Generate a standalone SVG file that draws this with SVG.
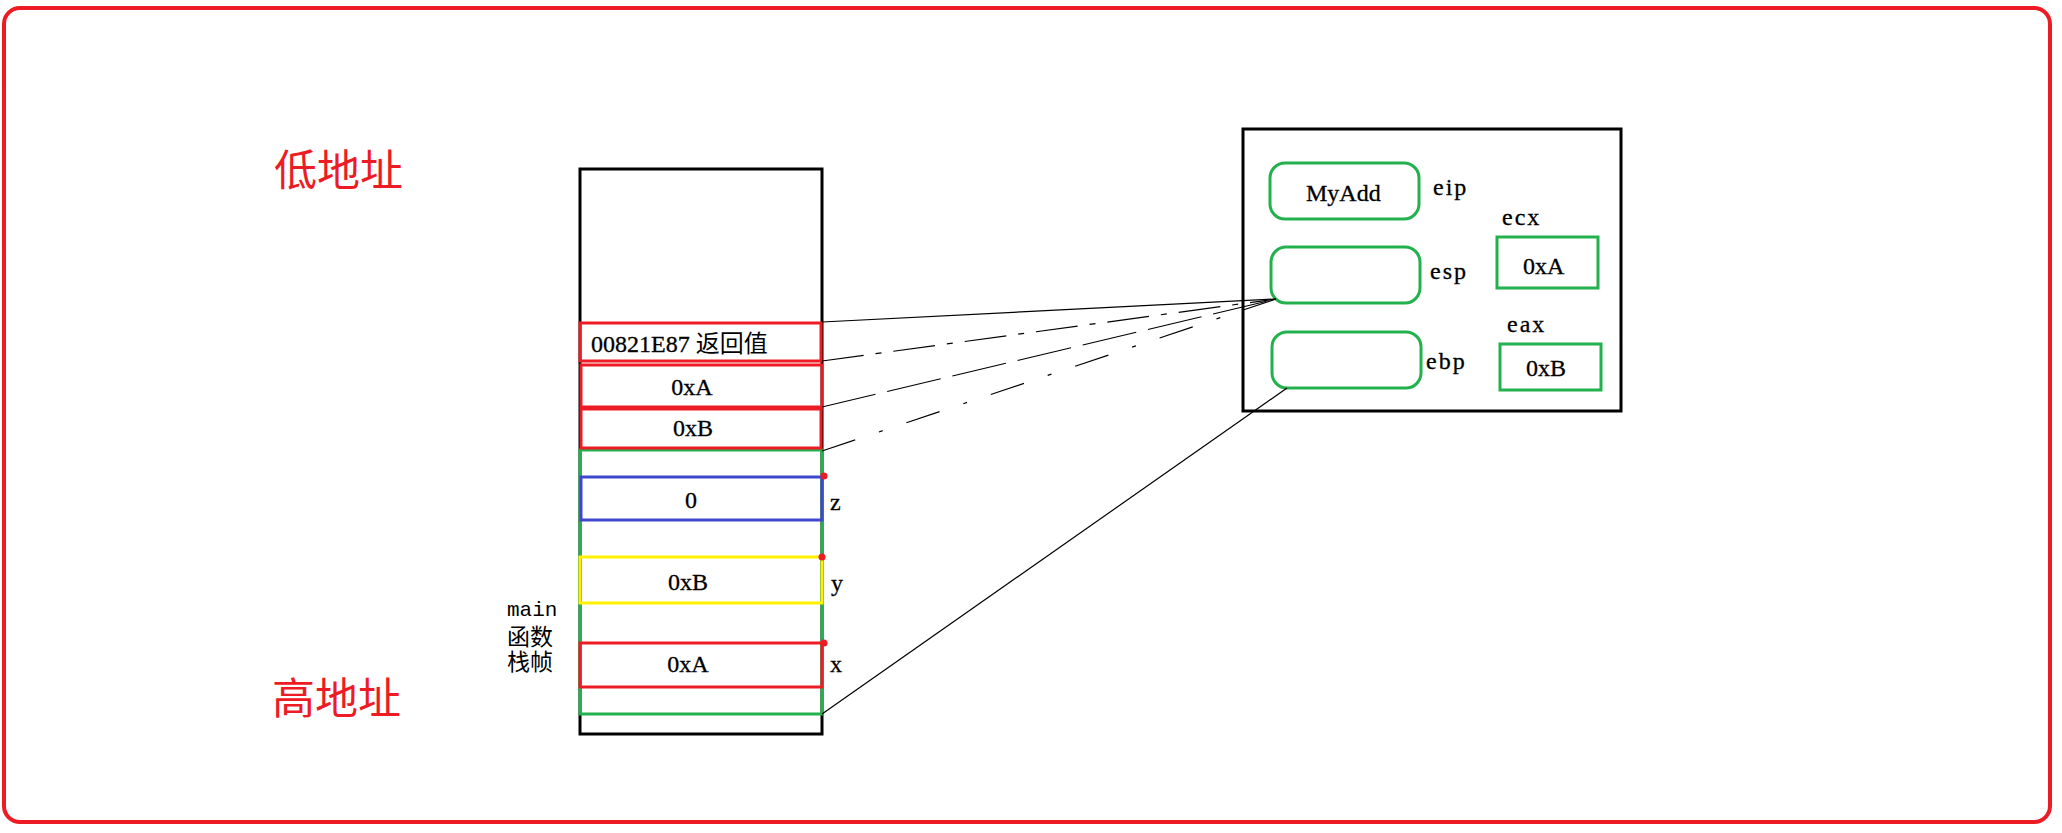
<svg xmlns="http://www.w3.org/2000/svg" width="2062" height="833" viewBox="0 0 2062 833">
<style>
.t{font-family:"Liberation Serif","Noto Sans CJK SC",serif;font-size:24px;fill:#000;stroke:#000;stroke-width:0.3}
.c{font-family:"Liberation Serif","Noto Sans CJK SC",serif;font-size:23px;fill:#000}
.cjk{font-family:"Noto Sans CJK SC","Noto Sans CJK JP",sans-serif;fill:#ed1c24;font-size:43px}
.lab{font-family:"Liberation Serif","Noto Sans CJK SC",serif;font-size:24px;fill:#000;stroke:#000;stroke-width:0.3;letter-spacing:2px}
.mono{font-family:"Liberation Mono",monospace;font-size:21px;fill:#000}
.red{fill:none;stroke:#ed1c24;stroke-width:3}
.grn{fill:none;stroke:#22b14c;stroke-width:3}
.blk{fill:none;stroke:#000;stroke-width:3}
.ln{stroke:#000;stroke-width:1.2;fill:none}
</style>
<rect x="0" y="0" width="2062" height="833" fill="#fff"/>
<rect x="4" y="8" width="2046" height="814" rx="16" fill="none" stroke="#ed1c24" stroke-width="4"/>
<text class="cjk" x="274" y="186">低地址</text>
<text class="cjk" x="272" y="714">高地址</text>
<g id="stack">
<rect class="blk" x="580" y="169" width="242" height="565"/>
<rect class="grn" x="580" y="450" width="242" height="264"/>
</g>
<g id="ret">
<rect class="red" x="580" y="323" width="241" height="38"/>
<text class="t" x="591" y="352">00821E87 <tspan stroke-width="0">返回值</tspan></text>
</g>
<g id="argA">
<rect class="red" x="581" y="365" width="241" height="42"/>
<text class="t" x="692" y="395" text-anchor="middle">0xA</text>
</g>
<g id="argB">
<rect class="red" x="581" y="409" width="240" height="39"/>
<text class="t" x="693" y="436" text-anchor="middle">0xB</text>
</g>
<g id="z">
<rect x="581" y="477" width="241" height="43" fill="none" stroke="#3f48cc" stroke-width="3"/>
<text class="t" x="691" y="508" text-anchor="middle">0</text>
<text class="lab" x="830" y="510">z</text>
</g>
<g id="y">
<rect x="580" y="557" width="242" height="46" fill="none" stroke="#fff200" stroke-width="3"/>
<text class="t" x="688" y="590" text-anchor="middle">0xB</text>
<text class="lab" x="831" y="591">y</text>
</g>
<g id="x">
<rect class="red" x="580" y="643" width="242" height="44"/>
<text class="t" x="688" y="672" text-anchor="middle">0xA</text>
<text class="lab" x="830" y="672">x</text>
</g>
<g fill="#ed1c24">
<circle cx="824" cy="476" r="3.5"/>
<circle cx="822" cy="557" r="3.5"/>
<circle cx="824" cy="643" r="3.5"/>
</g>
<g id="mainlabel">
<text class="mono" x="507" y="616">main</text>
<text class="c" x="507" y="645">函数</text>
<text class="c" x="507" y="670">栈帧</text>
</g>
<g id="regs">
<rect class="blk" x="1243" y="129" width="378" height="282"/>
</g>
<g id="eip">
<rect class="grn" x="1270" y="163" width="149" height="56" rx="15"/>
<text class="t" x="1306" y="201" font-size="22">MyAdd</text>
<text class="lab" x="1433" y="195">eip</text>
</g>
<g id="esp">
<rect class="grn" x="1271" y="247" width="149" height="56" rx="15"/>
<text class="lab" x="1430" y="279">esp</text>
</g>
<g id="ebp">
<rect class="grn" x="1272" y="332" width="149" height="56" rx="15"/>
<text class="lab" x="1426" y="369">ebp</text>
</g>
<g id="ecx">
<text class="lab" x="1502" y="225">ecx</text>
<rect class="grn" x="1497" y="237" width="101" height="51"/>
<text class="t" x="1523" y="274">0xA</text>
</g>
<g id="eax">
<text class="lab" x="1507" y="332">eax</text>
<rect class="grn" x="1500" y="344" width="101" height="46"/>
<text class="t" x="1526" y="376">0xB</text>
</g>
<g id="connectors">
<line class="ln" x1="822" y1="322" x2="1276" y2="299"/>
<line class="ln" x1="822" y1="361" x2="1276" y2="299" stroke-dasharray="42 12 6 12"/>
<line class="ln" x1="822" y1="407" x2="1276" y2="299" stroke-dasharray="55 12"/>
<line class="ln" x1="822" y1="451" x2="1276" y2="299" stroke-dasharray="35 25 4 25"/>
<line class="ln" x1="822" y1="714" x2="1287" y2="388"/>
</g>
</svg>
